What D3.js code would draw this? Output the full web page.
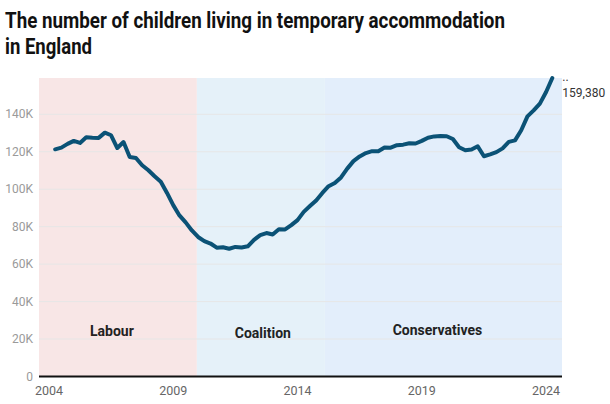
<!DOCTYPE html>
<html>
<head>
<meta charset="utf-8">
<script src="https://cdn.jsdelivr.net/npm/d3@7"></script>
<style>
  body { margin: 0; background: #fff; font-family: Roboto, "Open Sans", sans-serif; }
  svg text { font-family: Roboto, sans-serif; }
</style>
</head>
<body>
<div id="chart"></div>
<script>
// quarterly figures, Q1 2004 .. Q1 2024 (thousands of children)
const startYear = 2004.25;
const children = [
  121.3, 122.2, 124.2, 125.8, 124.7, 127.7, 127.5, 127.4, 130.2, 128.8,
  122.0, 125.2, 117.2, 116.7, 112.8, 110.1, 106.9, 104.0, 98.0, 91.5,
  86.0, 82.3, 78.0, 74.5, 72.3, 71.0, 68.8, 69.0, 68.2, 69.2,
  68.9, 69.5, 73.0, 75.5, 76.6, 75.8, 78.6, 78.5, 80.8, 83.5,
  87.9, 91.0, 94.0, 98.0, 101.6, 103.3, 106.3, 111.0, 115.0, 117.5,
  119.3, 120.3, 120.3, 122.3, 122.2, 123.5, 123.8, 124.5, 124.4, 125.8,
  127.5, 128.2, 128.4, 128.3, 126.8, 122.4, 120.8, 121.2, 122.9, 117.6,
  118.6, 119.8, 121.8, 125.3, 126.1, 131.5, 138.9, 142.1, 145.7, 151.9,
  159.38
];
const latestLabel = "159,380";

const parties = ["Labour", "Coalition", "Conservatives"];
const partyStart = [2003.6, 2009.95, 2015.1];
const partyEnd = [2009.95, 2015.1, 2024.64];
const partyColors = ["#f8e6e6", "#e5f1f9", "#e3eefb"];

const xTicks = [2004, 2009, 2014, 2019, 2024];
const yTicks = [0, 20000, 40000, 60000, 80000, 100000, 120000, 140000];

const width = 610, height = 404;
const margin = { top: 78, right: 48, bottom: 27.5, left: 39 };

const data = children.map((v, i) => ({ t: startYear + i * 0.25, v: v * 1000 }));

const svg = d3.select("#chart").append("svg")
    .attr("width", width)
    .attr("height", height);

// title (source font is a narrower cut, so squeeze to the same width)
svg.append("text")
    .attr("x", 5).attr("y", 28)
    .attr("font-size", 21.5).attr("font-weight", 700).attr("fill", "#111")
    .attr("textLength", 500).attr("lengthAdjust", "spacingAndGlyphs")
    .text("The number of children living in temporary accommodation");
svg.append("text")
    .attr("x", 5).attr("y", 54)
    .attr("font-size", 21.5).attr("font-weight", 700).attr("fill", "#111")
    .attr("textLength", 87).attr("lengthAdjust", "spacingAndGlyphs")
    .text("in England");

const x = d3.scaleLinear()
    .domain([partyStart[0], partyEnd[2]])
    .range([margin.left, width - margin.right]);
const y = d3.scaleLinear()
    .domain([0, 159380])
    .range([height - margin.bottom, margin.top]);

// government periods
svg.append("g").selectAll("rect")
    .data(parties)
    .join("rect")
    .attr("x", (d, i) => x(partyStart[i]))
    .attr("width", (d, i) => x(partyEnd[i]) - x(partyStart[i]))
    .attr("y", y.range()[1])
    .attr("height", y.range()[0] - y.range()[1])
    .attr("fill", (d, i) => partyColors[i]);

// gridlines + y labels
const yAxis = svg.append("g");
yAxis.selectAll("line")
    .data(yTicks.slice(1))
    .join("line")
    .attr("x1", x.range()[0]).attr("x2", x.range()[1])
    .attr("y1", d => y(d)).attr("y2", d => y(d))
    .attr("stroke", "#e6e6e6").attr("stroke-width", 1);
yAxis.selectAll("text")
    .data(yTicks)
    .join("text")
    .attr("x", 33)
    .attr("y", d => y(d))
    .attr("dy", "0.35em")
    .attr("text-anchor", "end")
    .attr("font-size", 12).attr("fill", "#9a9a9a")
    .text(d => d === 0 ? "0" : (d / 1000) + "K");

// party labels
const labelShift = [-6, 2, -6], labelDy = [0, 2, -1];
svg.append("g").selectAll("text")
    .data(parties)
    .join("text")
    .attr("x", (d, i) => (x(partyStart[i]) + x(partyEnd[i])) / 2 + labelShift[i])
    .attr("y", (d, i) => 336 + labelDy[i])
    .attr("text-anchor", "middle")
    .attr("font-size", 14).attr("font-weight", 700).attr("fill", "#222")
    .text(d => d);

// baseline and x ticks
svg.append("line")
    .attr("x1", x.range()[0]).attr("x2", x.range()[1])
    .attr("y1", y(0)).attr("y2", y(0))
    .attr("stroke", "#111").attr("stroke-width", 2);
svg.append("g").selectAll("text")
    .data(xTicks)
    .join("text")
    .attr("x", d => x(d))
    .attr("y", 395)
    .attr("text-anchor", "middle")
    .attr("font-size", 12.5).attr("fill", "#666")
    .text(d => d);

// the line
const line = d3.line()
    .x(d => x(d.t))
    .y(d => y(d.v));
svg.append("path")
    .datum(data)
    .attr("d", line)
    .attr("fill", "none")
    .attr("stroke", "#0b5276")
    .attr("stroke-width", 4)
    .attr("stroke-linejoin", "round")
    .attr("stroke-linecap", "round");

// latest value
const last = data[data.length - 1];
svg.append("text")
    .attr("x", x(last.t) + 10).attr("y", y(last.v) + 3)
    .attr("font-size", 12).attr("fill", "#333")
    .text("..");
svg.append("text")
    .attr("x", x(last.t) + 10).attr("y", y(last.v) + 19)
    .attr("font-size", 12).attr("fill", "#333")
    .text(latestLabel);
</script>
</body>
</html>
